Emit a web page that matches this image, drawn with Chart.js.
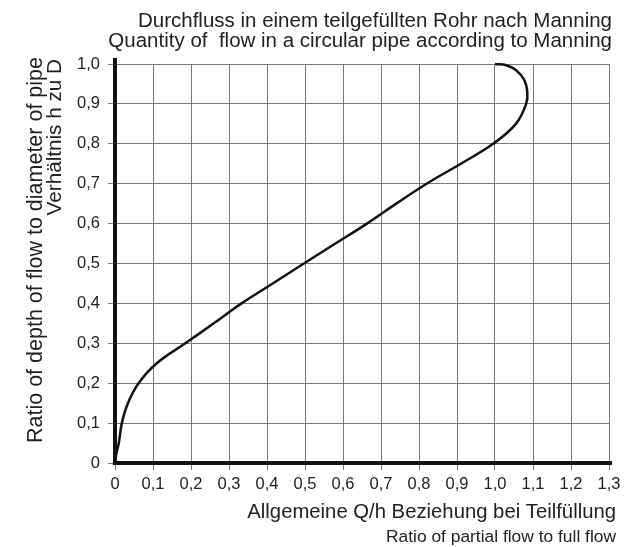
<!DOCTYPE html>
<html>
<head>
<meta charset="utf-8">
<script src="https://cdn.jsdelivr.net/npm/chart.js@4"></script>
<style>
  html, body { margin: 0; padding: 0; background: #fff; }
  #wrap { width: 630px; height: 547px; }
</style>
</head>
<body>
<div id="wrap"><canvas id="pipeChart" width="630" height="547"></canvas></div>
<script>
// h/D (depth ratio) and Q/Qfull (flow ratio)
const depthRatio = [0, 0.02, 0.05, 0.1, 0.15, 0.2, 0.25, 0.3, 0.35, 0.4, 0.45, 0.5, 0.55, 0.6, 0.65, 0.7, 0.75, 0.8, 0.85, 0.9, 0.93, 0.96, 0.985, 0.997, 1.0];
const flowRatio = [0, 0.003, 0.01, 0.018, 0.034, 0.062, 0.11, 0.185, 0.26, 0.333, 0.415, 0.497, 0.58, 0.663, 0.74, 0.82, 0.91, 0.995, 1.055, 1.082, 1.085, 1.077, 1.055, 1.03, 1.0];

const xTickLabels = ["0", "0,1", "0,2", "0,3", "0,4", "0,5", "0,6", "0,7", "0,8", "0,9", "1,0", "1,1", "1,2", "1,3"];
const yTickLabels = ["0", "0,1", "0,2", "0,3", "0,4", "0,5", "0,6", "0,7", "0,8", "0,9", "1,0"];

const titleLines = [
  "Durchfluss in einem teilgefüllten Rohr nach Manning",
  "Quantity of  flow in a circular pipe according to Manning",
];
const xTitleLines = ["Allgemeine Q/h Beziehung bei Teilfüllung", "Ratio of partial flow to full flow"];
const yTitleLines = ["Ratio of depth of flow to diameter of pipe", "Verhältnis h zu D"];

const FONT = "'Liberation Sans', Arial, sans-serif";
const INK = "#222";

// thick black axes, running a bit past the plot like in the drawing
const axisLines = {
  id: "axisLines",
  afterDatasetsDraw(chart) {
    const { ctx, chartArea: a } = chart;
    ctx.save();
    ctx.strokeStyle = "#111";
    ctx.lineWidth = 4;
    ctx.beginPath();
    ctx.moveTo(a.left, a.top - 6);
    ctx.lineTo(a.left, a.bottom + 2);
    ctx.moveTo(a.left - 2, a.bottom);
    ctx.lineTo(a.right + 3, a.bottom);
    ctx.stroke();
    ctx.restore();
  },
};

// titles: two-line header, bottom axis caption, rotated left caption
const captions = {
  id: "captions",
  afterDraw(chart) {
    const { ctx, chartArea: a } = chart;
    ctx.save();
    ctx.fillStyle = INK;
    ctx.textBaseline = "alphabetic";
    ctx.textAlign = "right";

    ctx.font = "20.5px " + FONT;
    ctx.fillText(titleLines[0], 612, 27);
    ctx.fillText(titleLines[1], 612, 47);

    ctx.font = "20.3px " + FONT;
    ctx.fillText(xTitleLines[0], 616, 518);
    ctx.font = "17.4px " + FONT;
    ctx.fillText(xTitleLines[1], 616, 542);

    ctx.translate(0, 0);
    ctx.save();
    ctx.translate(42, 57);
    ctx.rotate(-Math.PI / 2);
    ctx.font = "21.5px " + FONT;
    ctx.fillText(yTitleLines[0], 0, 0);
    ctx.restore();
    ctx.save();
    ctx.translate(61, 59);
    ctx.rotate(-Math.PI / 2);
    ctx.font = "20.7px " + FONT;
    ctx.fillText(yTitleLines[1], 0, 0);
    ctx.restore();

    ctx.restore();
  },
};

const points = depthRatio.map((h, i) => ({ x: flowRatio[i], y: h }));

new Chart(document.getElementById("pipeChart"), {
  type: "scatter",
  data: {
    datasets: [
      {
        data: points,
        showLine: true,
        borderColor: "#111",
        borderWidth: 2.5,
        pointRadius: 0,
        tension: 0.4,
        clip: false,
      },
    ],
  },
  options: {
    responsive: false,
    animation: false,
    layout: { padding: { left: 0, right: 21, top: 64, bottom: 0 } },
    plugins: {
      legend: { display: false },
      tooltip: { enabled: false },
      title: { display: false },
    },
    scales: {
      x: {
        type: "linear",
        min: 0,
        max: 1.3,
        afterFit: (scale) => { scale.height = 84; },
        afterBuildTicks: (scale) => {
          scale.ticks = xTickLabels.map((t, i) => ({ value: i / 10 }));
        },
        ticks: {
          callback: (v, i) => xTickLabels[i],
          color: INK,
          font: { family: FONT, size: 16.5 },
          padding: 5,
          maxRotation: 0,
        },
        grid: { color: "#7a7a7a", lineWidth: 1, tickLength: 7, tickColor: "#7a7a7a" },
        border: { display: false },
      },
      y: {
        type: "linear",
        min: 0,
        max: 1,
        afterFit: (scale) => { scale.width = 115; },
        afterBuildTicks: (scale) => {
          scale.ticks = yTickLabels.map((t, i) => ({ value: i / 10 }));
        },
        ticks: {
          callback: (v, i) => yTickLabels[i],
          color: INK,
          font: { family: FONT, size: 16.5 },
          padding: 8,
        },
        grid: { color: "#7a7a7a", lineWidth: 1, tickLength: 7, tickColor: "#7a7a7a" },
        border: { display: false },
      },
    },
  },
  plugins: [axisLines, captions],
});
</script>
</body>
</html>
